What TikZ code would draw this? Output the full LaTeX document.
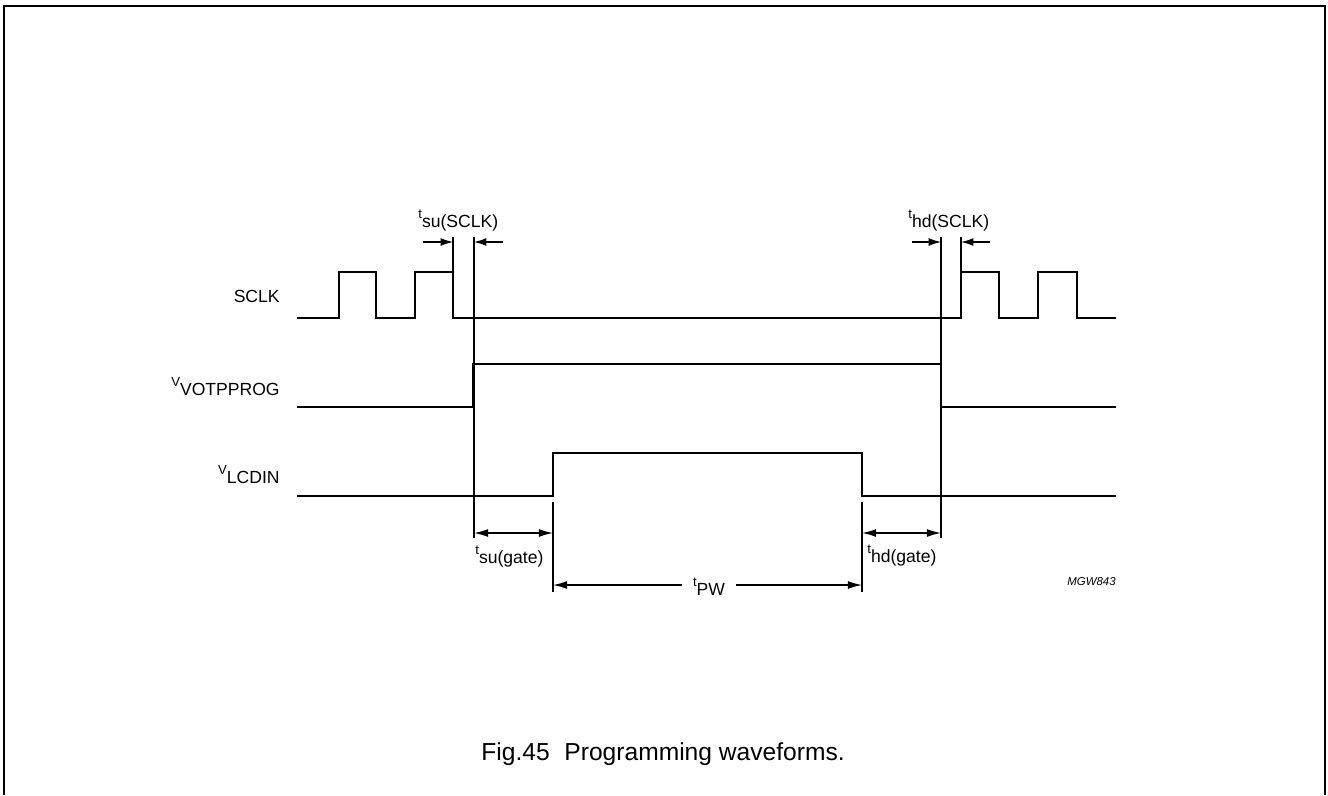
\documentclass[tikz,border=0pt]{standalone}
\usepackage{fontspec}
\setmainfont{Liberation Sans}
\usepackage{tikz}
\usetikzlibrary{arrows.meta}

% symbol with raised letter and big subscript
\newcommand{\tlab}[2]{\raisebox{5pt}{\fontsize{7.5}{8}\selectfont #1}{\fontsize{10}{12}\selectfont #2}}

\begin{document}
\begin{tikzpicture}[x=0.02cm, y=-0.02cm, every node/.style={inner sep=0pt},
    wave/.style={line width=1.6pt},
    guide/.style={line width=0.6pt},
    dimline/.style={line width=0.75pt, {Latex[length=8pt,width=4.5pt]}-{Latex[length=8pt,width=4.5pt]}},
    pointer/.style={line width=0.75pt, -{Latex[length=7pt,width=4.5pt]}}]

    \useasboundingbox (0,0) rectangle (1328,795);

    % Cornice
    \draw[line width=1pt] (4,795) -- (4,6) -- (1325,6) -- (1325,795);

    % Nomi
    \node[anchor=base east] (sclk) at (280,302) {\fontsize{10}{12}\selectfont SCLK};
    \node[anchor=base east] (votp) at (280,395) {\tlab{V}{VOTPPROG}};
    \node[anchor=base east] (lcdin) at (280,483) {\tlab{V}{LCDIN}};

    % Forme d'onda
    \draw[wave] (297,318) -- (339,318) -- (339,272) -- (376,272) -- (376,318) -- (415,318) -- (415,272)
        -- (453,272) -- (453,318) -- (961,318) -- (961,272) -- (999,272) -- (999,318) -- (1038,318)
        -- (1038,272) -- (1077,272) -- (1077,318) -- (1116,318);
    \draw[wave] (297,407) -- (473,407) -- (473,364) -- (941,364) -- (941,407) -- (1116,407);
    \draw[wave] (297,496) -- (553,496) -- (553,453) -- (862,453) -- (862,496) -- (1116,496);

    % Linee guida
    \draw[guide] (453,237) -- (453,272);
    \draw[guide] (474,237) -- (474,538);
    \draw[guide] (941,237) -- (941,538);
    \draw[guide] (961,237) -- (961,272);
    \draw[guide] (553,502) -- (553,592);
    \draw[guide] (862,502) -- (862,592);

    % Tempi SCLK
    \coordinate (a1) at (423,242);
    \coordinate (a2) at (453,242);
    \coordinate (a3) at (503,242);
    \coordinate (a4) at (474,242);
    \coordinate (b1) at (912,242);
    \coordinate (b2) at (941,242);
    \coordinate (b3) at (990,242);
    \coordinate (b4) at (961,242);
    \draw[pointer] (a1) -- (a2);
    \draw[pointer] (a3) -- (a4);
    \draw[pointer] (b1) -- (b2);
    \draw[pointer] (b3) -- (b4);
    \node[anchor=base west] (tsus) at (418,227) {\tlab{t}{su(SCLK)}};
    \node[anchor=base west] (thds) at (908,227) {\tlab{t}{hd(SCLK)}};

    % Tempi gate
    \coordinate (g1) at (474,533);
    \coordinate (g2) at (553,533);
    \coordinate (g3) at (862,533);
    \coordinate (g4) at (941,533);
    \draw[dimline] (g1) -- (g2);
    \draw[dimline] (g3) -- (g4);
    \node[anchor=base west] (tsug) at (475,563) {\tlab{t}{su(gate)}};
    \node[anchor=base west] (thdg) at (867,562) {\tlab{t}{hd(gate)}};

    % Larghezza impulso
    \coordinate (p1) at (553,585);
    \coordinate (p2) at (862,585);
    \draw[dimline] (p1) -- (p2);
    \node[anchor=base, fill=white, inner xsep=6pt, inner ysep=2pt] (tpw) at (709,595) {\tlab{t}{PW}};

    \node[anchor=base east] (mgw) at (1116,585) {\fontsize{6.5}{8}\selectfont\itshape MGW843};
    \node[anchor=base west] (cap) at (481,760) {\fontsize{14}{16}\selectfont Fig.45\hspace{0.6em}Programming waveforms.};
\end{tikzpicture}
\end{document}
